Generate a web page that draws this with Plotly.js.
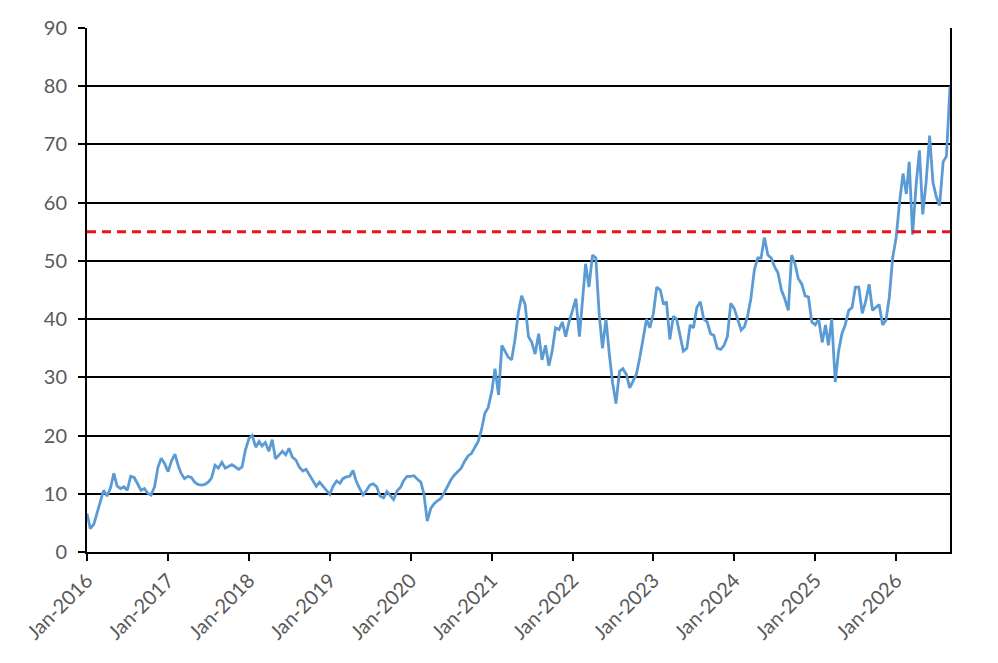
<!DOCTYPE html>
<html>
<head>
<meta charset="utf-8">
<script src="https://cdn.plot.ly/plotly-3.0.1.min.js"></script>
<style>
  html, body { margin: 0; padding: 0; background: #fff; }
  #chart { width: 998px; height: 663px; }
</style>
</head>
<body>
<div id="chart"></div>
<script>
// values, one per half month (1st and 16th)
var v2016 = [6.6, 4.0, 4.8, 6.8, 8.8, 10.6, 9.6, 11.0, 13.5, 11.3, 10.9, 11.2, 10.6, 13.0, 12.8, 11.8, 10.6, 10.9, 10.1, 9.8, 11.2, 14.5, 16.1, 15.2];
var v2017 = [13.8, 15.6, 16.8, 14.8, 13.5, 12.6, 13.0, 12.8, 12.0, 11.6, 11.5, 11.6, 12.0, 12.7, 14.9, 14.4, 15.4, 14.4, 14.7, 15.0, 14.6, 14.2, 14.6, 17.5];
var v2018 = [19.5, 20.0, 18.0, 19.0, 18.2, 18.8, 17.3, 19.3, 16.0, 16.6, 17.3, 16.7, 17.8, 16.3, 15.8, 14.6, 13.9, 14.2, 13.3, 12.2, 11.3, 12.0, 11.3, 10.5];
var v2019 = [9.9, 11.3, 12.2, 11.8, 12.6, 12.9, 13.0, 14.0, 12.1, 10.9, 9.8, 10.6, 11.5, 11.7, 11.2, 9.6, 9.3, 10.4, 9.6, 9.0, 10.5, 11.1, 12.3, 13.0];
var v2020 = [13.0, 13.1, 12.5, 12.0, 10.0, 5.3, 7.5, 8.3, 8.8, 9.2, 10.2, 11.3, 12.4, 13.2, 13.8, 14.4, 15.6, 16.5, 16.9, 17.8, 19.0, 21.0, 23.8, 24.8];
var v2021 = [27.5, 31.5, 27.0, 35.5, 34.5, 33.5, 33.0, 36.5, 41.0, 44.0, 42.5, 37.0, 36.0, 34.0, 37.5, 33.0, 35.5, 32.0, 34.5, 38.5, 38.2, 39.5, 37.0, 39.5];
var v2022 = [41.5, 43.5, 37.0, 43.5, 49.5, 45.5, 51.0, 50.5, 41.0, 35.0, 40.0, 34.0, 29.0, 25.5, 31.0, 31.5, 30.5, 28.2, 29.5, 30.5, 33.5, 37.0, 40.0, 38.5];
var v2023 = [41.0, 45.5, 45.0, 42.5, 43.0, 36.5, 40.5, 40.0, 37.0, 34.5, 35.0, 39.0, 38.5, 42.0, 43.0, 40.0, 39.5, 37.5, 37.2, 35.0, 34.8, 35.5, 37.0, 42.7];
var v2024 = [41.8, 39.8, 38.1, 38.7, 40.5, 43.5, 48.5, 50.5, 50.5, 54.0, 51.0, 50.5, 49.0, 48.0, 45.0, 43.5, 41.5, 51.0, 49.5, 47.0, 46.0, 44.0, 43.8, 39.5];
var v2025 = [39.0, 40.0, 36.0, 39.0, 35.5, 40.0, 29.2, 34.5, 37.5, 39.0, 41.5, 42.0, 45.5, 45.5, 41.0, 43.0, 46.0, 41.5, 42.0, 42.5, 39.0, 39.8, 43.8, 50.5];
var v2026 = [54.0, 60.0, 65.0, 61.5, 67.0, 54.5, 63.0, 69.0, 58.0, 63.5, 71.5, 63.5, 61.0, 59.5, 67.0, 68.0, 80.0];

var years = [2016, 2017, 2018, 2019, 2020, 2021, 2022, 2023, 2024, 2025, 2026];
var yearValues = [v2016, v2017, v2018, v2019, v2020, v2021, v2022, v2023, v2024, v2025, v2026];

var threshold = 55;
var startDate = '2016-01-01';
var endDate = '2026-09-01';

// half-month dates for the values of one year
function halfMonths(year, n) {
  var out = [];
  for (var i = 0; i < n; i++) {
    var m = Math.floor(i / 2) + 1;
    var day = (i % 2 == 0) ? '01' : '16';
    out.push(year + '-' + (m < 10 ? '0' + m : m) + '-' + day);
  }
  return out;
}

var xs = [];
var ys = [];
years.forEach(function (yr, i) {
  xs = xs.concat(halfMonths(yr, yearValues[i].length));
  ys = ys.concat(yearValues[i]);
});

var data = [
  {
    x: xs,
    y: ys,
    type: 'scatter',
    mode: 'lines',
    line: { color: '#5B9BD5', width: 2.8 },
    hoverinfo: 'x+y'
  },
  {
    x: [startDate, endDate],
    y: [threshold, threshold],
    type: 'scatter',
    mode: 'lines',
    line: { color: '#E8141B', width: 3, dash: '9px,6px' },
    hoverinfo: 'skip'
  }
];

var tickFont = { family: 'Lato, "Open Sans", sans-serif', size: 20, color: '#595959' };

var layout = {
  width: 998,
  height: 663,
  margin: { l: 87, r: 48, t: 28, b: 111 },
  paper_bgcolor: '#fff',
  plot_bgcolor: '#fff',
  showlegend: false,
  xaxis: {
    type: 'date',
    range: [startDate, endDate],
    tick0: startDate,
    dtick: 'M12',
    tickformat: '%b-%Y',
    tickangle: -45,
    ticks: 'outside',
    ticklen: 7,
    tickwidth: 2,
    tickcolor: '#000',
    showgrid: false,
    showline: true,
    linecolor: '#000',
    linewidth: 2,
    zeroline: false,
    tickfont: tickFont
  },
  yaxis: {
    range: [0, 90],
    dtick: 10,
    ticks: 'outside',
    ticklen: 7,
    tickwidth: 2,
    tickcolor: '#000',
    showgrid: true,
    gridcolor: '#000',
    gridwidth: 2,
    showline: true,
    mirror: true,
    linecolor: '#000',
    linewidth: 2,
    zeroline: false,
    ticklabelstandoff: 7,
    tickfont: tickFont
  }
};

Plotly.newPlot('chart', data, layout, { displayModeBar: false, staticPlot: true });
</script>
</body>
</html>
